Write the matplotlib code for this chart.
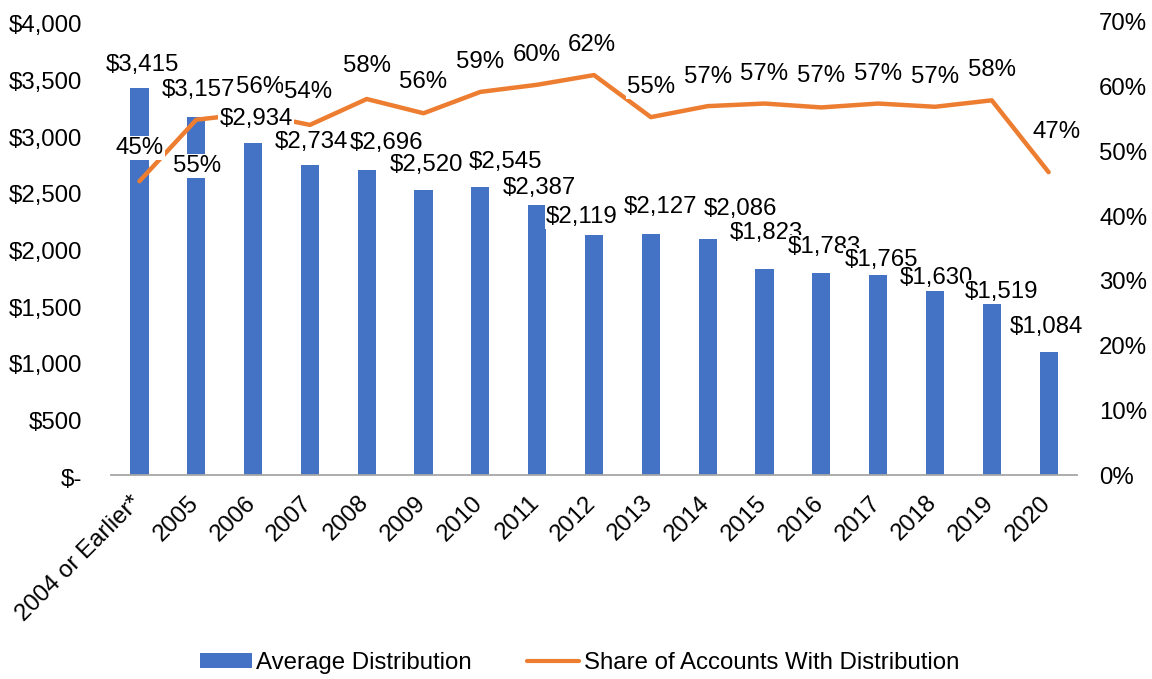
import matplotlib
matplotlib.use("Agg")
import matplotlib.pyplot as plt
import matplotlib.patches as mpatches
import matplotlib.transforms as mtransforms
from matplotlib.lines import Line2D

plt.rcParams['font.family'] = ['Liberation Sans', 'DejaVu Sans']

categories = ["2004 or Earlier*", "2005", "2006", "2007", "2008", "2009", "2010",
              "2011", "2012", "2013", "2014", "2015", "2016", "2017", "2018",
              "2019", "2020"]
avg_distribution = [3415, 3157, 2934, 2734, 2696, 2520, 2545, 2387, 2119,
                    2127, 2086, 1823, 1783, 1765, 1630, 1519, 1084]
share_with_distribution = [45.4, 54.9, 55.9, 54.1, 58.1, 55.9, 59.2, 60.3, 61.8,
                           55.3, 57.0, 57.4, 56.8, 57.4, 56.9, 57.9, 46.8]

BLUE = '#4472C4'
ORANGE = '#ED7D31'
FS = 17.3

# where the data labels sit, in pixels (dx, dy upwards)
bar_label_nudge = [(3, 23), (2, 27), (3, 24), (2, 23), (20, 27), (3, 25), (25, 25),
                   (2, 17), (-12, 18), (10, 27), (33, 30), (2, 36), (3, 26),
                   (3, 15), (1, 12), (10, 11), (-2, 25)]
line_label_nudge = [(0, 33), (1, -46), (7, 26), (-2, 33), (0, 33), (-1, 31), (0, 30),
                    (0, 30), (-2, 30), (0, 30), (0, 29), (0, 30), (0, 31), (0, 30),
                    (0, 30), (0, 30), (8, 40)]
PX = 0.72  # px -> pt at dpi 100

fig = plt.figure(figsize=(11.52, 6.79), dpi=100)
ax = fig.add_axes([0.0964, 0.3004, 0.8385, 0.6672])
ax2 = ax.twinx()

x = list(range(len(categories)))
ax.bar(x, avg_distribution, width=0.32, color=BLUE, zorder=2)
ax2.plot(x, share_with_distribution, color=ORANGE, lw=3.2,
         solid_capstyle='round', solid_joinstyle='round', zorder=3)

ax.set_xlim(-0.5, len(categories) - 0.5)
ax.set_ylim(0, 4000)
ax.set_yticks(range(0, 4001, 500))
ax.set_yticklabels(["$-" if v == 0 else "${:,}".format(v) for v in range(0, 4001, 500)])
ax2.set_ylim(0, 70)
ax2.set_yticks(range(0, 71, 10))
ax2.set_yticklabels(["{}%".format(v) for v in range(0, 71, 10)])

ax.set_xticks(x)
ax.set_xticklabels(categories, rotation=45, ha='right', va='top', rotation_mode='anchor')

for a in (ax, ax2):
    for s in a.spines.values():
        s.set_visible(False)
ax.spines['bottom'].set_visible(True)
ax.spines['bottom'].set_color('#A6A6A6')
ax.spines['bottom'].set_linewidth(1.3)

ax.tick_params(axis='y', length=0, pad=21, labelsize=FS)
ax.tick_params(axis='x', length=0, pad=12, labelsize=FS)
ax2.tick_params(axis='y', length=0, pad=16, labelsize=FS)

# nudges for tick labels
for lab in ax.get_yticklabels():
    lab.set_transform(lab.get_transform() +
                      mtransforms.ScaledTranslation(0, -2 / 100, fig.dpi_scale_trans))
for lab in ax.get_xticklabels():
    lab.set_transform(lab.get_transform() +
                      mtransforms.ScaledTranslation(-9 / 100, 0, fig.dpi_scale_trans))

box = dict(boxstyle='square,pad=0.05', fc='white', ec='none')

# bar labels
for i, v in enumerate(avg_distribution):
    dx, dy = bar_label_nudge[i]
    ax2.annotate("${:,}".format(v), xy=(i, v), xycoords=ax.transData,
                 xytext=(dx * PX, dy * PX), textcoords='offset points',
                 ha='center', va='center', fontsize=FS, bbox=box, zorder=5)

# line labels
for i, v in enumerate(share_with_distribution):
    dx, dy = line_label_nudge[i]
    ax2.annotate("{:.0f}%".format(v), xy=(i, v),
                 xytext=(dx * PX, dy * PX), textcoords='offset points',
                 ha='center', va='center', fontsize=FS, bbox=box, zorder=6)

handles = [mpatches.Patch(color=BLUE, lw=0),
           Line2D([], [], color=ORANGE, lw=3, solid_capstyle='round')]
fig.legend(handles, ["Average Distribution", "Share of Accounts With Distribution"],
           loc='center', bbox_to_anchor=(0.503, 0.0236), ncol=2, frameon=False,
           fontsize=FS, handlelength=2.15, handleheight=0.55, handletextpad=0.2,
           columnspacing=2.3)

fig.savefig('out.png', dpi=100)
plt.close(fig)
